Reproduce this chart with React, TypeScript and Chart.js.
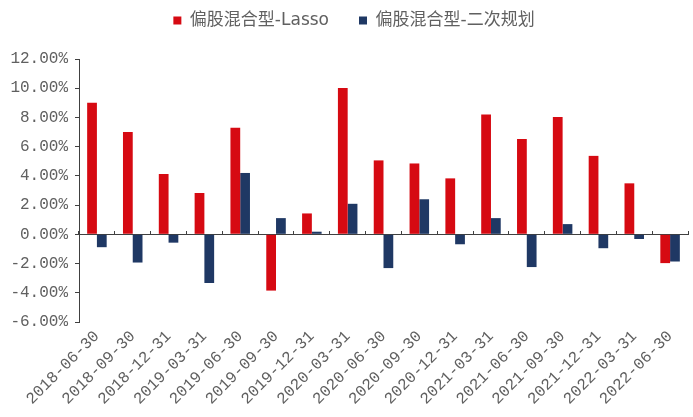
import React, { useEffect, useRef } from "react";
import { Chart, registerables } from "chart.js";

Chart.register(...registerables);

const categories = [
  "2018-06-30", "2018-09-30", "2018-12-31", "2019-03-31", "2019-06-30", "2019-09-30",
  "2019-12-31", "2020-03-31", "2020-06-30", "2020-09-30", "2020-12-31", "2021-03-31",
  "2021-06-30", "2021-09-30", "2021-12-31", "2022-03-31", "2022-06-30",
];
const lassoValues = [9.0, 7.0, 4.13, 2.83, 7.3, -3.85, 1.43, 10.02, 5.06, 4.85, 3.83, 8.21, 6.53, 8.03, 5.37, 3.49, -1.97];
const quadValues = [-0.88, -1.93, -0.57, -3.33, 4.2, 1.11, 0.18, 2.09, -2.31, 2.4, -0.68, 1.11, -2.24, 0.7, -0.95, -0.32, -1.86];
const seriesNames = ["偏股混合型-Lasso", "偏股混合型-二次规划"];
const yMin = -6;
const yMax = 12;
const yStep = 2;

const RED = "#D60A12";
const NAVY = "#1F3864";
const TEXT = "#606060";
const AXIS = "#404040";

const legendShift = {
  id: "legendShift",
  afterLayout(chart: any) {
    const l = chart.legend;
    if (l) {
      l.left += 10;
      l.right += 10;
    }
  },
};

export default function App() {
  const ref = useRef<HTMLCanvasElement | null>(null);

  useEffect(() => {
    if (!ref.current) return;
    const chart = new Chart(ref.current, {
      type: "bar",
      data: {
        labels: categories,
        datasets: [
          {
            label: seriesNames[0],
            data: lassoValues,
            backgroundColor: RED,
            xAxisID: "x",
            yAxisID: "y",
            barPercentage: 1,
            categoryPercentage: 0.545,
          },
          {
            label: seriesNames[1],
            data: quadValues,
            backgroundColor: NAVY,
            xAxisID: "x",
            yAxisID: "y",
            barPercentage: 1,
            categoryPercentage: 0.545,
          },
        ],
      },
      plugins: [legendShift],
      options: {
        animation: false,
        responsive: true,
        maintainAspectRatio: false,
        layout: { padding: { left: 0, right: 5, top: -18, bottom: 0 } },
        plugins: {
          tooltip: { enabled: false },
          title: {
            display: true,
            text: "",
            weight: 500,
            position: "top",
            font: { size: 10, lineHeight: 1 },
            padding: { top: 0, bottom: 10 },
          },
          legend: {
            position: "top",
            align: "center",
            labels: {
              boxWidth: 8,
              boxHeight: 8,
              padding: 30,
              color: TEXT,
              font: { family: "'DejaVu Sans', 'Noto Sans CJK SC'", size: 17 },
            },
          },
        },
        scales: {
          x: {
            type: "category",
            position: { y: 0 } as any,
            offset: true,
            grid: {
              display: true,
              drawOnChartArea: false,
              drawTicks: true,
              tickLength: -4,
              offset: true,
              color: AXIS,
            },
            border: { display: true, color: AXIS, width: 1 },
            ticks: { display: false },
          },
          xLabels: {
            type: "category",
            position: "bottom",
            labels: categories,
            offset: true,
            grid: { display: false, drawTicks: false },
            border: { display: false },
            ticks: {
              color: TEXT,
              maxRotation: 45,
              minRotation: 45,
              autoSkip: false,
              padding: 5,
              font: { family: "'Liberation Mono', monospace", size: 16 },
            },
            afterFit: (scale: any) => {
              scale.height = 95;
            },
          },
          y: {
            type: "linear",
            min: yMin,
            max: yMax,
            grid: {
              display: true,
              drawOnChartArea: false,
              drawTicks: true,
              tickLength: 4,
              color: AXIS,
            },
            border: { display: true, color: AXIS, width: 1 },
            ticks: {
              stepSize: yStep,
              color: TEXT,
              padding: 7,
              font: { family: "'Liberation Mono', monospace", size: 16 },
              callback: (v: any) => Number(v).toFixed(2) + "%",
            },
            afterFit: (scale: any) => {
              scale.width = 79;
            },
          },
        },
      },
    });
    return () => chart.destroy();
  }, []);

  return (
    <div style={{ position: "absolute", left: 0, top: 0, width: 693, height: 417, background: "#fff" }}>
      <canvas ref={ref} />
    </div>
  );
}
